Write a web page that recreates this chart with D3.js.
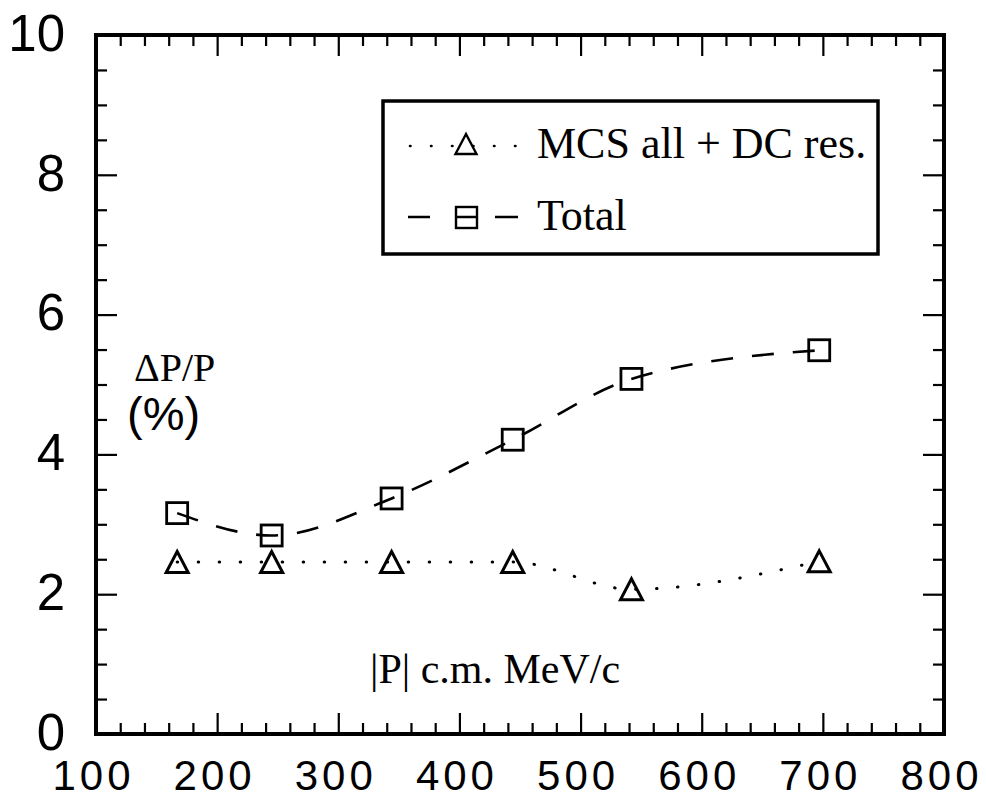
<!DOCTYPE html>
<html>
<head>
<meta charset="utf-8">
<script src="https://cdn.jsdelivr.net/npm/d3@7"></script>
<style>
  html, body { margin: 0; padding: 0; background: #fff; }
  svg { display: block; }
</style>
</head>
<body>
<svg id="chart" width="986" height="801"></svg>
<script>
// ---- data ----
const momentum = [167, 245, 344, 444, 542, 697];          // |P| c.m. MeV/c
const mcsRes   = [2.46, 2.46, 2.46, 2.46, 2.07, 2.47];     // MCS all + DC res. (%)
const totalRes = [3.16, 2.84, 3.37, 4.21, 5.08, 5.49];     // Total (%)
const xMajorTicks = [100, 200, 300, 400, 500, 600, 700, 800];
const yMajorTicks = [0, 2, 4, 6, 8, 10];
const seriesNames = ["MCS all + DC res.", "Total"];
const yLabelLines = ["\u0394P/P", "(%)"];
const xLabelText = "|P| c.m. MeV/c";

// ---- layout ----
const L = 96, R = 944, T = 35, B = 734;
const svg = d3.select("#chart");
const x = d3.scaleLinear().domain([100, 800]).range([L, R]);
const y = d3.scaleLinear().domain([0, 10]).range([B, T]);

const xMinor = d3.range(100, 801, 20).filter(v => v % 100 !== 0);
const yMinor = d3.range(0, 10.01, 0.5).filter(v => v % 2 !== 0);

const SANS = "'Liberation Sans', Arial, Helvetica, sans-serif";
const SERIF = "'Liberation Serif', 'Times New Roman', serif";

function styleAxis(g) {
  g.select(".domain").remove();
  g.selectAll(".tick line").attr("stroke", "#000").attr("stroke-width", 2.2);
}

// bottom axis (major with labels)
const gB = svg.append("g").attr("transform", `translate(0,${B})`)
  .call(d3.axisBottom(x).tickValues(xMajorTicks).tickSize(-21).tickPadding(26).tickFormat(d3.format("d")));
styleAxis(gB);
gB.selectAll("text")
  .attr("font-family", SANS).attr("font-size", 42).attr("fill", "#000")
  .attr("letter-spacing", "4px").attr("x", -3);
svg.append("g").attr("transform", `translate(0,${B})`)
  .call(d3.axisBottom(x).tickValues(xMinor).tickSize(-11).tickFormat(""))
  .call(styleAxis);

// top axis
svg.append("g").attr("transform", `translate(0,${T})`)
  .call(d3.axisTop(x).tickValues(xMajorTicks).tickSize(-21).tickFormat(""))
  .call(styleAxis);
svg.append("g").attr("transform", `translate(0,${T})`)
  .call(d3.axisTop(x).tickValues(xMinor).tickSize(-11).tickFormat(""))
  .call(styleAxis);

// left axis (major with labels)
const gL = svg.append("g").attr("transform", `translate(${L},0)`)
  .call(d3.axisLeft(y).tickValues(yMajorTicks).tickSize(-21).tickPadding(31).tickFormat(d3.format("d")));
styleAxis(gL);
gL.selectAll("text")
  .attr("font-family", SANS).attr("font-size", 51).attr("fill", "#000")
  .attr("dy", "0.3em");
svg.append("g").attr("transform", `translate(${L},0)`)
  .call(d3.axisLeft(y).tickValues(yMinor).tickSize(-11).tickFormat(""))
  .call(styleAxis);

// right axis
svg.append("g").attr("transform", `translate(${R},0)`)
  .call(d3.axisRight(y).tickValues(yMajorTicks).tickSize(-21).tickFormat(""))
  .call(styleAxis);
svg.append("g").attr("transform", `translate(${R},0)`)
  .call(d3.axisRight(y).tickValues(yMinor).tickSize(-11).tickFormat(""))
  .call(styleAxis);

// frame
svg.append("rect").attr("x", L).attr("y", T).attr("width", R - L).attr("height", B - T)
  .attr("fill", "none").attr("stroke", "#000").attr("stroke-width", 4);

// ---- series ----
const mcsData = momentum.map((m, i) => ({ x: m, y: mcsRes[i] }));
const totData = momentum.map((m, i) => ({ x: m, y: totalRes[i] }));

const line = d3.line().x(d => x(d.x)).y(d => y(d.y)).curve(d3.curveMonotoneX);

svg.append("path").datum(mcsData).attr("d", line)
  .attr("fill", "none").attr("stroke", "#000").attr("stroke-width", 3)
  .attr("stroke-linecap", "round").attr("stroke-dasharray", "0.5,20.5");

svg.append("path").datum(totData).attr("d", line)
  .attr("fill", "none").attr("stroke", "#000").attr("stroke-width", 2.6)
  .attr("stroke-dasharray", "22,19");

const triPath = (cx, cy, w, h) =>
  `M${cx},${cy - h / 2}L${cx + w / 2},${cy + h / 2}L${cx - w / 2},${cy + h / 2}Z`;

svg.append("g").selectAll("path").data(mcsData).join("path")
  .attr("d", d => triPath(x(d.x), y(d.y), 22, 21))
  .attr("fill", "none").attr("stroke", "#000").attr("stroke-width", 3)
  .attr("stroke-linejoin", "miter");

svg.append("g").selectAll("rect").data(totData).join("rect")
  .attr("x", d => x(d.x) - 10.5).attr("y", d => y(d.y) - 10.5)
  .attr("width", 21).attr("height", 21)
  .attr("fill", "none").attr("stroke", "#000").attr("stroke-width", 2.8);

// ---- legend ----
const lg = svg.append("g");
lg.append("rect").attr("x", 383).attr("y", 101).attr("width", 495).attr("height", 153)
  .attr("fill", "none").attr("stroke", "#000").attr("stroke-width", 3.5);

// row 1: dotted with triangle
lg.append("line").attr("x1", 410).attr("x2", 520).attr("y1", 146).attr("y2", 146)
  .attr("stroke", "#000").attr("stroke-width", 2.6).attr("stroke-linecap", "round")
  .attr("stroke-dasharray", "0.5,20.5");
lg.append("path").attr("d", triPath(466, 144, 21, 20))
  .attr("fill", "#fff").attr("stroke", "#000").attr("stroke-width", 2.4);
lg.append("text").attr("x", 537).attr("y", 158)
  .attr("font-family", SERIF).attr("font-size", 44).attr("fill", "#000")
  .text(seriesNames[0]);

// row 2: dashed with square
lg.append("line").attr("x1", 408).attr("x2", 518).attr("y1", 217).attr("y2", 217)
  .attr("stroke", "#000").attr("stroke-width", 2.6)
  .attr("stroke-dasharray", "22,25,22,18,23");
lg.append("rect").attr("x", 456).attr("y", 207).attr("width", 21).attr("height", 21)
  .attr("fill", "none").attr("stroke", "#000").attr("stroke-width", 2.4);
lg.append("text").attr("x", 537).attr("y", 230)
  .attr("font-family", SERIF).attr("font-size", 44).attr("fill", "#000")
  .text(seriesNames[1]);

// ---- axis titles ----
svg.append("text").attr("x", 134).attr("y", 381)
  .attr("font-family", SERIF).attr("font-size", 40).attr("fill", "#000")
  .text(yLabelLines[0]);
svg.append("text").attr("x", 127).attr("y", 430)
  .attr("font-family", SANS).attr("font-size", 47).attr("fill", "#000")
  .text(yLabelLines[1]);
svg.append("text").attr("x", 370).attr("y", 683)
  .attr("font-family", SERIF).attr("font-size", 42).attr("fill", "#000")
  .text(xLabelText);
</script>
</body>
</html>
